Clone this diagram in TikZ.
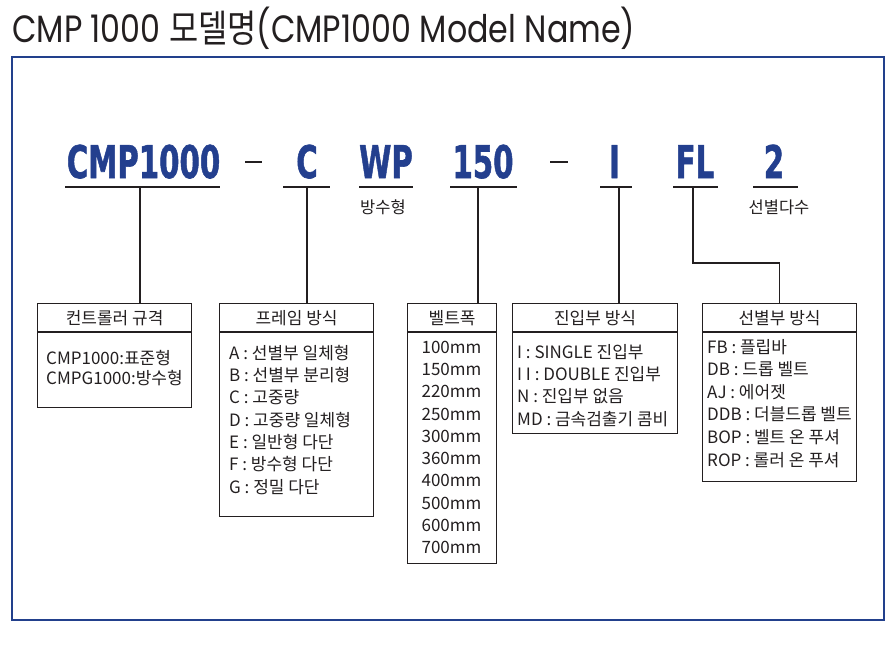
\documentclass[tikz,border=0pt]{standalone}
\usepackage{fontspec}
\setmainfont{Noto Sans CJK KR}
\newfontfamily\titlefont{Poppins}
\newfontfamily\krfont{Noto Sans CJK KR}
\newfontfamily\codefont{DejaVu Sans}[BoldFeatures={FakeBold=1.5}]
\definecolor{navy}{HTML}{233F8E}
\definecolor{framecol}{HTML}{22408C}
\definecolor{ink}{HTML}{231F20}
\newcommand{\codetxt}[1]{\scalebox{0.65}[1]{\codefont\bfseries\fontsize{45}{45}\selectfont #1}}
\tikzset{
  code/.style={anchor=base, inner sep=0pt, text=navy},
  uline/.style={ink, line width=1.2pt},
  conn/.style={ink, line width=1.2pt},
  dashmark/.style={ink, line width=2pt},
  boxframe/.style={draw=ink, line width=1.2pt, anchor=north west, inner sep=0pt},
  head/.style={anchor=center, inner sep=0pt, text=ink, font=\fontsize{17}{17}\selectfont},
  body/.style={anchor=base west, inner sep=0pt, text=ink, font=\fontsize{17}{17}\selectfont},
  bodyc/.style={anchor=base, inner sep=0pt, text=ink, font=\fontsize{17}{17}\selectfont},
  sub/.style={anchor=center, inner sep=0pt, text=ink, font=\fontsize{16.5}{16.5}\selectfont},
}
\begin{document}
\begin{tikzpicture}[x=1pt,y=-1pt]
\useasboundingbox (0,0) rectangle (896,657);
% title
\node[anchor=base west, inner sep=0pt, text=ink] (title) at (12,42)
  {\resizebox{623pt}{\height}{\fontsize{38}{38}\selectfont\titlefont CMP 1000 {\krfont 모델명}(CMP1000 Model Name)}};
% frame
\draw[framecol, line width=2pt] (12,57) rectangle (884,620);
% code letters
\node[code] (cmp) at (143.5,178) {\codetxt{CMP1000}};
\node[code] (cc) at (307,178) {\codetxt{C}};
\node[code] (wp) at (386,178) {\codetxt{WP}};
\node[code] (w150) at (483,178) {\codetxt{150}};
\node[code] (ii) at (614.5,178) {\codetxt{I}};
\node[code] (fl) at (695,178) {\codetxt{FL}};
\node[code] (two) at (774,178) {\codetxt{2}};
% dashes
\draw[dashmark] (245,162) -- (262,162);
\draw[dashmark] (550,162) -- (568,162);
% underlines
\coordinate (u1a) at (65,187);  \coordinate (u1b) at (220,187);
\coordinate (u2a) at (283,187); \coordinate (u2b) at (330,187);
\coordinate (u3a) at (359,187); \coordinate (u3b) at (413,187);
\coordinate (u4a) at (450,187); \coordinate (u4b) at (517,187);
\coordinate (u5a) at (600,187); \coordinate (u5b) at (632,187);
\coordinate (u6a) at (673,187); \coordinate (u6b) at (718,187);
\coordinate (u7a) at (753,187); \coordinate (u7b) at (798,187);
\foreach \i in {1,...,7} {\draw[uline] (u\i a) -- (u\i b);}
% sub labels
\node[sub] (subwp) at (383,207) {방수형};
\node[sub] (sub2) at (779,207) {선별다수};
% boxes
\node[boxframe, minimum width=154pt, minimum height=104pt] (b1) at (37,303) {};
\node[boxframe, minimum width=154pt, minimum height=213pt] (b2) at (219,303) {};
\node[boxframe, minimum width=89pt, minimum height=260pt] (b3) at (407,303) {};
\node[boxframe, minimum width=165pt, minimum height=130pt] (b4) at (512,303) {};
\node[boxframe, minimum width=154pt, minimum height=178pt] (b5) at (702,303) {};
\foreach \b in {b1,b2,b3,b4,b5} {\draw[conn] ([yshift=-29pt]\b.north west) -- ([yshift=-29pt]\b.north east);}
% connectors
\coordinate (c1) at (140,187);
\coordinate (c2) at (307,187);
\coordinate (c4) at (478,187);
\coordinate (c5) at (619,187);
\coordinate (c6) at (693,187);
\draw[conn] (c1) -- (c1 |- b1.north);
\draw[conn] (c2) -- (c2 |- b2.north);
\draw[conn] (c4) -- (c4 |- b3.north);
\draw[conn] (c5) -- (c5 |- b4.north);
\draw[conn] (c6) -- (693,263) -| (b5.north);
% headers
\node[head] (h1) at (b1.north |- 0,318) {컨트롤러 규격};
\node[head] (h2) at (b2.north |- 0,318) {프레임 방식};
\node[head] (h3) at (b3.north |- 0,318) {벨트폭};
\node[head] (h4) at (b4.north |- 0,318) {진입부 방식};
\node[head] (h5) at (b5.north |- 0,318) {선별부 방식};
% box 1
\node[body] (t11) at (46,364) {CMP1000:표준형};
\node[body] (t12) at (46,384) {CMPG1000:방수형};
% box 2
\node[body] (t21) at (229,359) {A : 선별부 일체형};
\node[body] (t22) at (229,381.3) {B : 선별부 분리형};
\node[body] (t23) at (229,403.7) {C : 고중량};
\node[body] (t24) at (229,426) {D : 고중량 일체형};
\node[body] (t25) at (229,448.3) {E : 일반형 다단};
\node[body] (t26) at (229,470.7) {F : 방수형 다단};
\node[body] (t27) at (229,493) {G : 정밀 다단};
% box 3
\foreach \v [count=\k from 0] in {100,150,220,250,300,360,400,500,600,700}
  {\node[bodyc] (t3\k) at (451.5,353+22.33*\k) {\v mm};}
% box 4
\node[body] (t41) at (517,358) {I : SINGLE 진입부};
\node[body] (t42) at (517,380.3) {I I : DOUBLE 진입부};
\node[body] (t43) at (517,402.7) {N : 진입부 없음};
\node[body] (t44) at (517,425) {MD : 금속검출기 콤비};
% box 5
\node[body] (t51) at (707,353) {FB : 플립바};
\node[body] (t52) at (707,375.6) {DB : 드롭 벨트};
\node[body] (t53) at (707,398.2) {AJ : 에어젯};
\node[body] (t54) at (707,420.8) {DDB : 더블드롭 벨트};
\node[body] (t55) at (707,443.4) {BOP : 벨트 온 푸셔};
\node[body] (t56) at (707,466) {ROP : 롤러 온 푸셔};
\end{tikzpicture}
\end{document}
